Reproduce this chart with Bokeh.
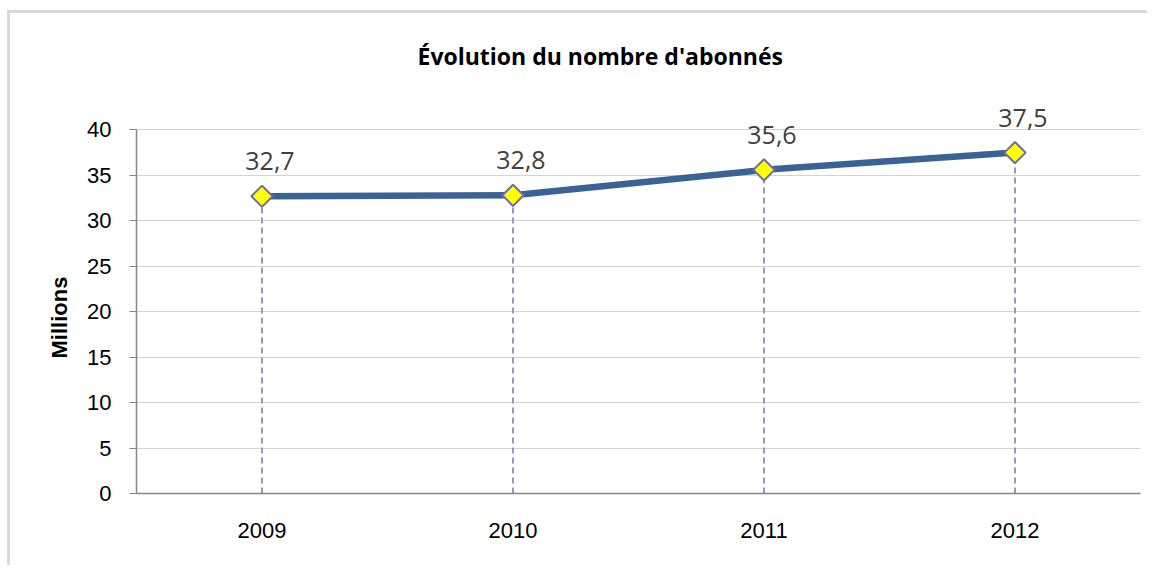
import math
from bokeh.plotting import figure
from bokeh.models import FactorRange, ColumnDataSource, FixedTicker, Range1d, LabelSet, Title
from bokeh.core.properties import value
from bokeh.embed import file_html
from bokeh.resources import INLINE

years = ["2009", "2010", "2011", "2012"]
subscribers = [32.7, 32.8, 35.6, 37.5]
labels = ["32,7", "32,8", "35,6", "37,5"]
y_ticks = [0, 5, 10, 15, 20, 25, 30, 35, 40]
title_text = "Évolution du nombre d'abonnés"
y_title = "Millions"

src = ColumnDataSource(dict(x=years, y=subscribers, lab=labels, zero=[0] * len(years)))

p = figure(width=1140, height=555, x_range=FactorRange(*years), y_range=Range1d(0, 44),
           output_backend="svg", toolbar_location=None,
           min_border_left=126, min_border_right=10, min_border_top=80, min_border_bottom=75)
p.styles = {"border-top": "3px solid #d9d9d9", "border-left": "3px solid #d9d9d9",
            "margin-left": "7px", "margin-top": "10px"}
p.outline_line_color = None
p.background_fill_color = "white"
p.border_fill_color = "white"

p.title.text = title_text
p.title.align = "left"
p.title.offset = 281
p.title.text_font = "Open Sans"
p.title.text_font_style = "bold"
p.title.text_font_size = "23px"
p.title.text_color = "black"
p.title.standoff = 44

p.xgrid.grid_line_color = None
p.ygrid.grid_line_color = "#a6a6a6"
p.ygrid.grid_line_dash = "1 1"
p.ygrid.grid_line_width = 1
p.ygrid.bounds = (0, 40)
p.yaxis.ticker = FixedTicker(ticks=y_ticks)
p.yaxis.bounds = (0, 40)

for ax in (p.xaxis, p.yaxis):
    ax.axis_line_color = "#868686"
    ax.axis_line_width = 1.5
    ax.major_label_text_font = "Liberation Sans"
    ax.major_label_text_font_size = "22px"
    ax.major_label_text_color = "black"
    ax.minor_tick_line_color = None

p.yaxis.major_tick_line_color = "#868686"
p.yaxis.major_tick_out = 7
p.yaxis.major_tick_in = 0
p.yaxis.major_label_standoff = 18

p.add_layout(Title(text=y_title, align="left", offset=135, standoff=26,
                   text_font="Liberation Sans", text_font_style="bold",
                   text_font_size="22px", text_color="black"), "left")

p.xaxis.major_tick_line_color = None
p.xaxis.major_label_standoff = 23

p.segment(x0="x", y0="zero", x1="x", y1="y", source=src, line_color="#9797c0",
          line_width=2, line_dash="6 4")
p.line(x="x", y="y", source=src, line_color="#3b6294", line_width=6.5)
p.scatter(x="x", y="y", source=src, marker="square", angle=math.pi / 4, size=15,
          fill_color="#ffff00", line_color="#6e6ba8", line_width=2)

p.add_layout(LabelSet(x="x", y="y", text="lab", source=src, text_align="center",
                      text_baseline="middle", x_offset=8, y_offset=35,
                      text_font=value("Open Sans"), text_font_size=value("25px"),
                      text_color=value("#404040")))

open("out.html", "w").write(file_html(p, INLINE))
